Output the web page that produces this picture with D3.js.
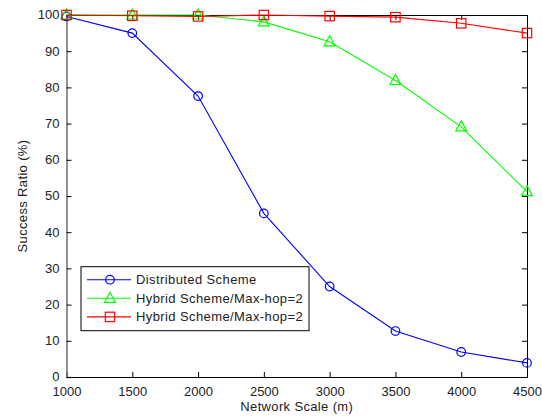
<!DOCTYPE html>
<html>
<head>
    <script src="https://d3js.org/d3.v7.min.js"></script>
    <style>
        body { margin: 0; background: #fff; }
        text { font-family: Arial, "Liberation Sans", sans-serif; fill: #222; }
    </style>
</head>
<body>
<script>
const scales = [1000, 1500, 2000, 2500, 3000, 3500, 4000, 4500];
const distributed = [99.6, 95, 77.6, 45.2, 25, 12.7, 6.9, 3.9];
const hybridGreen = [100, 100, 100, 98.1, 92.6, 81.9, 69.1, 51.2];
const hybridRed = [100, 99.8, 99.6, 100, 99.7, 99.4, 97.7, 95];
const xTicks = [1000, 1500, 2000, 2500, 3000, 3500, 4000, 4500];
const yTicks = [0, 10, 20, 30, 40, 50, 60, 70, 80, 90, 100];

const series = [
    {name: 'Distributed Scheme', values: distributed, color: '#0000ff', marker: 'circle'},
    {name: 'Hybrid Scheme/Max-hop=2', values: hybridGreen, color: '#00ff00', marker: 'triangle'},
    {name: 'Hybrid Scheme/Max-hop=2', values: hybridRed, color: '#ff0000', marker: 'square'}
];

const width = 542, height = 416;
const margin = {top: 15, right: 15, bottom: 39, left: 66.5};

const x = d3.scaleLinear()
    .domain([1000, 4500])
    .range([margin.left, width - margin.right]);

const y = d3.scaleLinear()
    .domain([0, 100])
    .range([height - margin.bottom, margin.top]);

const svg = d3.select('body').append('svg')
    .attr('width', width)
    .attr('height', height);

// axes box, ticks inward on all sides
svg.append('g')
    .attr('transform', `translate(0, ${y(0)})`)
    .call(d3.axisBottom(x).tickValues(xTicks).tickSize(-5).tickPadding(10).tickFormat(d3.format('d')))
    .call(g => g.select('.domain').attr('stroke', '#000'))
    .call(g => g.selectAll('text').attr('font-size', 13).attr('fill', '#222'));

svg.append('g')
    .attr('transform', `translate(0, ${y(100)})`)
    .call(d3.axisTop(x).tickValues(xTicks).tickSize(-5).tickFormat(''))
    .call(g => g.select('.domain').attr('stroke', '#000'));

svg.append('g')
    .attr('transform', `translate(${x(1000)}, 0)`)
    .call(d3.axisLeft(y).tickValues(yTicks).tickSize(-5).tickPadding(7))
    .call(g => g.select('.domain').attr('stroke', '#777').attr('stroke-width', 1.6))
    .call(g => g.selectAll('text').attr('font-size', 13).attr('fill', '#222').attr('dy', '0.3em'));

svg.append('g')
    .attr('transform', `translate(${x(4500)}, 0)`)
    .call(d3.axisRight(y).tickValues(yTicks).tickSize(-5).tickFormat(''))
    .call(g => g.select('.domain').attr('stroke', '#000'));

svg.selectAll('.tick line').attr('stroke', '#000');

// axis labels
svg.append('text')
    .attr('x', (x(1000) + x(4500)) / 2)
    .attr('y', 411)
    .attr('text-anchor', 'middle')
    .attr('font-size', 13)
    .attr('letter-spacing', 0.35)
    .text('Network Scale (m)');

svg.append('text')
    .attr('transform', `translate(27, ${(y(0) + y(100)) / 2}) rotate(-90)`)
    .attr('text-anchor', 'middle')
    .attr('font-size', 13)
    .attr('letter-spacing', 0.35)
    .text('Success Ratio (%)');

function drawMarker(g, type, color) {
    if (type === 'circle') {
        g.append('circle').attr('r', 4.3)
            .attr('fill', 'none').attr('stroke', color).attr('stroke-width', 1.2);
    } else if (type === 'square') {
        g.append('rect').attr('x', -4.7).attr('y', -4.7).attr('width', 9.4).attr('height', 9.4)
            .attr('fill', 'none').attr('stroke', color).attr('stroke-width', 1.2);
    } else {
        g.append('path').attr('d', 'M0,-6 L5.5,4 L-5.5,4 Z')
            .attr('fill', 'none').attr('stroke', color).attr('stroke-width', 1.2);
    }
}

const line = d3.line()
    .x((d, i) => x(scales[i]))
    .y(d => y(d));

series.forEach(s => {
    svg.append('path')
        .datum(s.values)
        .attr('fill', 'none')
        .attr('stroke', s.color)
        .attr('stroke-width', 1.1)
        .attr('d', line);

    s.values.forEach((v, i) => {
        const g = svg.append('g').attr('transform', `translate(${x(scales[i])}, ${y(v)})`);
        drawMarker(g, s.marker, s.color);
    });
});

// legend
const legend = svg.append('g').attr('transform', 'translate(81, 266.7)');
legend.append('rect')
    .attr('width', 228).attr('height', 64)
    .attr('fill', '#fff').attr('stroke', '#000').attr('stroke-width', 1);

series.forEach((s, i) => {
    const yy = 13 + i * 18.6;
    const g = legend.append('g').attr('transform', `translate(0, ${yy})`);
    g.append('line').attr('x1', 6).attr('x2', 50)
        .attr('stroke', s.color).attr('stroke-width', 1.1);
    drawMarker(g.append('g').attr('transform', 'translate(29, 0)'), s.marker, s.color);
    g.append('text').attr('x', 55).attr('y', 4.5)
        .attr('font-size', 13)
        .attr('letter-spacing', 0.4)
        .text(s.name);
});
</script>
</body>
</html>
